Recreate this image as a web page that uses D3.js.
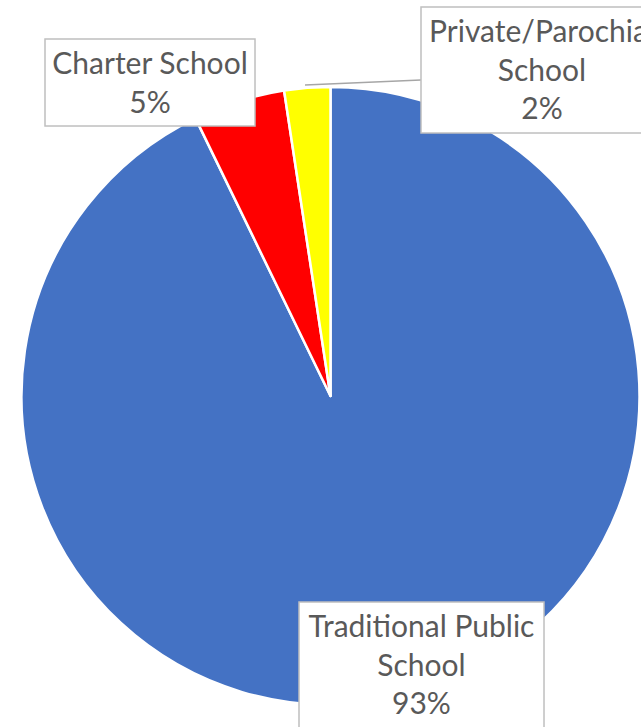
<html>
<head>
  <script src="https://d3js.org/d3.v7.min.js"></script>
  <style>
    body { margin: 0; background: #fff; }
    .lbl { font-family: Lato, "Open Sans", sans-serif; fill: #595959; }
  </style>
</head>
<body>
  <svg id="pie" width="641" height="727"></svg>
  <script>
    // data
    const categories = ['Traditional Public School', 'Charter School', 'Private/Parochial School'];
    const values = [92.8, 4.8, 2.4];
    const pctLabels = ['93%', '5%', '2%'];
    const colors = ['#4472C4', '#FF0000', '#FFFF00'];

    const svg = d3.select('svg#pie');
    const cx = 330.5, cy = 396, radius = 309;

    const chartArea = svg.append('g')
      .attr('transform', `translate(${cx},${cy})`);

    const pie = d3.pie().sort(null).value(d => d);
    const arc = d3.arc().innerRadius(0).outerRadius(radius);

    chartArea.selectAll('path.slice')
      .data(pie(values))
      .join('path')
      .attr('class', 'slice')
      .attr('d', arc)
      .attr('fill', (d, i) => colors[i])
      .attr('stroke', 'white')
      .attr('stroke-width', 2.5)
      .attr('stroke-linejoin', 'round');

    // callout boxes (positions relative to pie centre)
    const boxes = [
      { x: -31.5, y: 206, w: 245, h: 140, lines: ['Traditional Public', 'School'] },
      { x: -285.5, y: -357, w: 210, h: 87, lines: ['Charter School'] },
      { x: 90.5, y: -389, w: 242, h: 126, lines: ['Private/Parochial', 'School'] }
    ];

    // leader line for the private slice
    chartArea.append('polyline')
      .attr('points', `${-25.5},${-311} ${90.5},${-316}`)
      .attr('fill', 'none')
      .attr('stroke', '#A6A6A6')
      .attr('stroke-width', 1.5);

    boxes.forEach((b, i) => {
      const g = chartArea.append('g')
        .attr('transform', `translate(${b.x},${b.y})`);
      g.append('rect')
        .attr('width', b.w)
        .attr('height', b.h)
        .attr('fill', 'white')
        .attr('stroke', '#BFBFBF')
        .attr('stroke-width', 1.5);
      const lines = b.lines.concat([pctLabels[i]]);
      lines.forEach((t, j) => {
        g.append('text')
          .attr('class', 'lbl')
          .attr('x', b.w / 2)
          .attr('y', 35 + j * 38.5)
          .attr('text-anchor', 'middle')
          .style('font-size', '30px')
          .text(t);
      });
    });
  </script>
</body>
</html>
